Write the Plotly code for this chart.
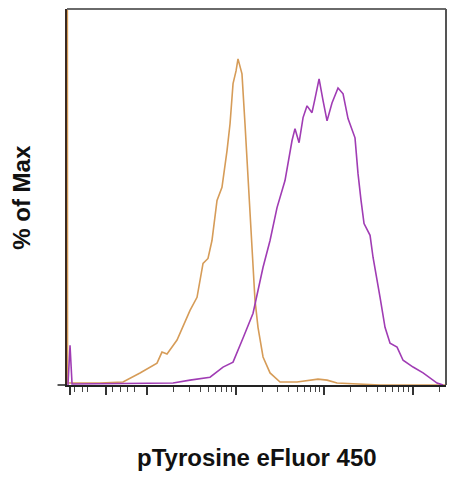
import numpy as np
import plotly.graph_objects as go

# x in display units (log10 of fluorescence, logicle-like near zero), y in % of max

# unstained / isotype control (orange)
ctrl_x = [1.100, 1.102, 1.469, 1.729, 1.921, 2.113, 2.169, 2.226, 2.339, 2.486,
          2.565, 2.633, 2.689, 2.734, 2.791, 2.847, 2.904, 2.938, 2.972, 3.006,
          3.028, 3.073, 3.107, 3.141, 3.175, 3.220, 3.254, 3.311, 3.390, 3.503,
          3.695, 3.842, 3.932, 4.034, 4.147, 4.633, 5.378]
ctrl_y = [120, 0.6, 0.6, 0.9, 3.7, 6.7, 10.1, 9.5, 13.8, 22.9,
          26.9, 37.3, 38.8, 44.3, 56.6, 60.6, 71.9, 80.1, 92.4, 96.3,
          100, 95.4, 80.1, 64.8, 48.3, 26.0, 17.7, 8.6, 3.7, 0.9,
          0.9, 1.5, 1.8, 1.5, 0.6, 0, 0]

# pTyrosine eFluor 450 stained (purple)
stain_x = [1.107, 1.130, 1.153, 1.921, 2.294, 2.486, 2.712, 2.859, 2.972, 3.085,
           3.198, 3.311, 3.390, 3.469, 3.559, 3.638, 3.672, 3.718, 3.763, 3.808,
           3.864, 3.898, 3.944, 3.989, 4.034, 4.090, 4.158, 4.215, 4.271, 4.350,
           4.384, 4.418, 4.452, 4.520, 4.554, 4.633, 4.689, 4.746, 4.825, 4.893,
           5.006, 5.119, 5.277, 5.345]
stain_y = [0, 12.2, 0.3, 0.6, 0.6, 1.5, 2.4, 5.5, 7.0, 14.4,
           22.0, 36.1, 44.3, 54.4, 62.7, 74.9, 78.6, 74.3, 82.0, 85.6,
           83.5, 87.8, 93.9, 87.2, 81.0, 86.5, 91.1, 89.3, 81.7, 75.8,
           64.8, 56.6, 49.5, 45.9, 39.1, 26.9, 17.7, 12.8, 11.6, 7.6,
           5.5, 3.7, 0.6, 0]

# axis ticks (no labels on this plot)
major_ticks = [1.13, 1.537, 2, 3, 4, 5]
linear_minor = [1.186, 1.266, 1.333, 1.605, 1.695, 1.774, 1.864]
decade_minor = [k + np.log10(m) for k in (2, 3, 4) for m in range(2, 10)] + [5 + np.log10(2)]

x_range = [1.096, 5.378]
y_range = [0, 115.3]

fig = go.Figure()
fig.add_trace(go.Scatter(x=ctrl_x, y=ctrl_y, mode="lines",
                         line=dict(color="#d69c58", width=1.6), showlegend=False))
fig.add_trace(go.Scatter(x=stain_x, y=stain_y, mode="lines",
                         line=dict(color="#a03cb4", width=1.6), showlegend=False))

fig.update_xaxes(range=x_range, showgrid=False, zeroline=False,
                 showline=True, linecolor="#222", linewidth=1.5,
                 tickmode="array", tickvals=major_ticks, ticktext=[""] * len(major_ticks),
                 ticks="outside", ticklen=8, tickwidth=1.5, tickcolor="#333",
                 minor=dict(tickmode="array", tickvals=linear_minor + decade_minor,
                            ticks="outside", ticklen=5, tickwidth=1, tickcolor="#444"))
fig.update_yaxes(range=y_range, showgrid=False, zeroline=False,
                 showline=True, linecolor="#3a2a22", linewidth=2,
                 showticklabels=False, ticks="")

# box top/right and the short axis stub left of the origin
fig.add_shape(type="line", xref="paper", yref="paper", x0=0, x1=1, y0=1, y1=1,
              line=dict(color="#6a6a6a", width=2))
fig.add_shape(type="line", xref="paper", yref="paper", x0=1, x1=1, y0=0, y1=1,
              line=dict(color="#555", width=2))
fig.add_shape(type="line", xref="paper", yref="paper", x0=-0.025, x1=0, y0=0, y1=0,
              line=dict(color="#222", width=1.5))

fig.add_annotation(text="% of Max", xref="paper", yref="paper", x=-0.122, y=0.5,
                   textangle=-90, showarrow=False, xanchor="center", yanchor="middle",
                   font=dict(size=24, color="#111", family="Liberation Sans", weight="bold"))
fig.add_annotation(text="pTyrosine eFluor 450", xref="paper", yref="paper", x=0.5, y=-0.194,
                   showarrow=False, xanchor="center", yanchor="middle",
                   font=dict(size=24, color="#111", family="Liberation Sans", weight="bold"))

# page adds an 8px body margin, so the figure is a bit smaller than the window
fig.update_layout(width=447, height=472, margin=dict(l=59, r=9, t=1, b=95),
                  plot_bgcolor="white", paper_bgcolor="white",
                  font_family="Liberation Sans")
fig.write_html("out.html")
